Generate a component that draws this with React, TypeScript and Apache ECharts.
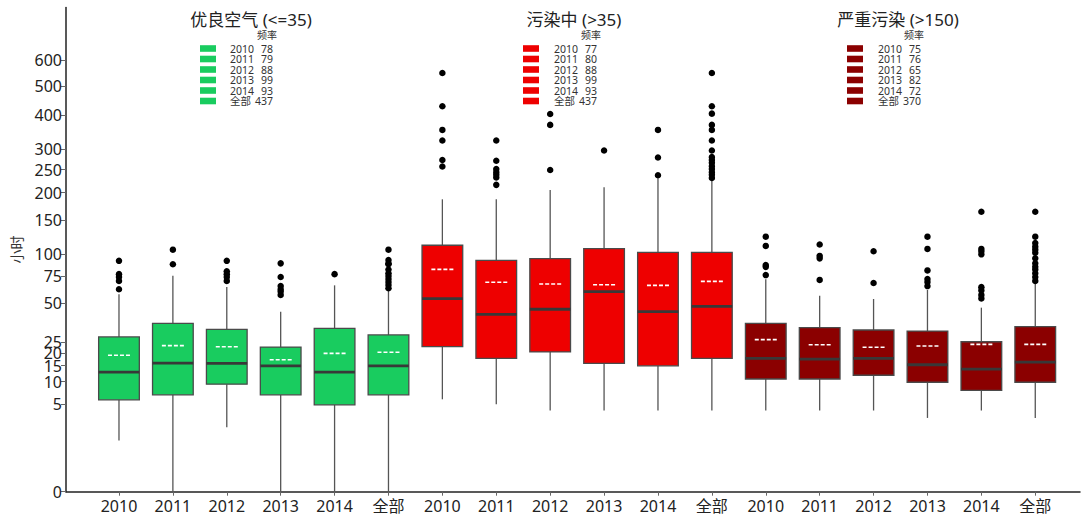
import React, { useEffect, useRef } from "react";
import * as echarts from "echarts";

// ---- data ----
const years = ["2010", "2011", "2012", "2013", "2014", "全部"];
const groupTitles = ["优良空气 (<=35)", "污染中 (>35)", "严重污染 (>150)"];
const groupColors = ["#19CC5F", "#EE0000", "#8B0000"];
const yTicks = [0, 5, 10, 15, 20, 25, 50, 75, 100, 150, 200, 250, 300, 400, 500, 600];

// legend counts (频率)
const goodCounts = [78, 79, 88, 99, 93, 437];
const midCounts = [77, 80, 88, 99, 93, 437];
const badCounts = [75, 76, 65, 82, 72, 370];

// box stats: [lowerWhisker, Q1, median, Q3, upperWhisker, mean]
const goodStats = [
  [1, 5.8, 12.8, 27.7, 57.5, 19.0],
  [0, 6.8, 15.9, 35.7, 75.4, 23.3],
  [2, 9.3, 15.8, 32.0, 64.1, 22.8],
  [0, 6.8, 14.9, 22.6, 43.6, 17.2],
  [0, 4.9, 12.8, 32.6, 65.7, 19.8],
  [0, 6.8, 14.9, 28.8, 60.7, 20.3],
];
const midStats = [
  [5.9, 22.8, 53.8, 111.9, 186.9, 82.2],
  [5.0, 17.7, 41.7, 92.6, 186.9, 68.7],
  [4.0, 20.4, 45.4, 94.6, 205.3, 67.0],
  [4.0, 15.8, 59.8, 107.3, 210.9, 66.3],
  [4.0, 14.9, 43.6, 102.6, 230.1, 65.7],
  [4.0, 17.7, 47.6, 102.6, 226.4, 69.6],
];
const badStats = [
  [4.0, 10.7, 17.7, 35.7, 71.6, 26.3],
  [4.0, 10.7, 17.4, 33.0, 56.3, 23.7],
  [4.0, 11.8, 17.7, 31.6, 53.5, 22.5],
  [3.0, 9.8, 15.3, 31.0, 61.4, 23.1],
  [4.0, 7.8, 13.8, 25.2, 46.6, 23.9],
  [3.0, 9.8, 16.3, 33.6, 67.7, 23.9],
];

// outliers per box
const goodOutliers = [
  [92, 77, 74, 70, 62],
  [106, 88],
  [92, 80, 77, 74, 70],
  [89, 74, 65, 62, 60, 57],
  [77],
  [106, 93, 89, 88, 82, 78, 75, 72, 69, 66, 63],
];
const midOutliers = [
  [549, 428, 354, 324, 273, 257],
  [324, 271, 251, 244, 238, 232, 216],
  [403, 369, 249],
  [297],
  [354, 279, 237],
  [549, 428, 404, 369, 354, 324, 297, 280, 273, 266, 258, 251, 244, 238, 231],
];
const badOutliers = [
  [124, 111, 87, 85, 76],
  [113, 98, 95, 71],
  [104, 68],
  [124, 107, 81, 72, 69, 65],
  [164, 107, 104, 100, 64, 61, 57, 54],
  [164, 124, 115, 110, 106, 102, 95, 89, 85, 82, 78, 74, 70],
];

const cbrt = (v: number) => Math.cbrt(v);
const Y_MAX = 9.468;
const X_MIN = 0.017;
const X_MAX = 18.83;
const FONT = "'Noto Sans', 'Noto Sans CJK SC', sans-serif";

const allStats = [goodStats, midStats, badStats];
const allOutliers = [goodOutliers, midOutliers, badOutliers];
const allCounts = [goodCounts, midCounts, badCounts];
const allCats = groupTitles.flatMap(() => years);

function boxSeries(gi: number) {
  const data = allStats[gi].map((s, i) => [gi * 6 + i + 1, ...s.map(cbrt)]);
  return {
    type: "custom",
    data,
    encode: { x: 0, y: [1, 2, 3, 4, 5, 6] },
    z: 2,
    renderItem: (params: any, api: any) => {
      const x = api.value(0);
      const lo = api.coord([x, api.value(1)]);
      const q1 = api.coord([x, api.value(2)]);
      const med = api.coord([x, api.value(3)]);
      const q3 = api.coord([x, api.value(4)]);
      const hi = api.coord([x, api.value(5)]);
      const mean = api.coord([x, api.value(6)]);
      const w = api.size([0.755, 0])[0];
      const cx = lo[0];
      return {
        type: "group",
        children: [
          { type: "line", shape: { x1: cx, y1: lo[1], x2: cx, y2: q1[1] }, style: { stroke: "#555", lineWidth: 1.3 } },
          { type: "line", shape: { x1: cx, y1: q3[1], x2: cx, y2: hi[1] }, style: { stroke: "#555", lineWidth: 1.3 } },
          {
            type: "rect",
            shape: { x: cx - w / 2, y: q3[1], width: w, height: q1[1] - q3[1] },
            style: { fill: groupColors[gi], stroke: "#4a4a4a", lineWidth: 1.3 },
          },
          { type: "line", shape: { x1: cx - w / 2, y1: med[1], x2: cx + w / 2, y2: med[1] }, style: { stroke: "#383838", lineWidth: 2.8 } },
          {
            type: "line",
            shape: { x1: cx - 11, y1: mean[1], x2: cx + 11, y2: mean[1] },
            style: { stroke: "#ffffff", lineWidth: 1.6, lineDash: [4, 2] },
          },
        ],
      };
    },
  };
}

function outlierSeries() {
  const pts: number[][] = [];
  allOutliers.forEach((g, gi) =>
    g.forEach((arr, i) => arr.forEach((v) => pts.push([gi * 6 + i + 1, cbrt(v)])))
  );
  return {
    type: "scatter",
    data: pts,
    symbol: "circle",
    symbolSize: 6.5,
    itemStyle: { color: "#000", opacity: 1 },
    z: 3,
  };
}

function legendGraphics() {
  const layout = [
    { titleX: 251, swX: 200, textX: 230, countX: 273, hdrX: 267 },
    { titleX: 574, swX: 523, textX: 554, countX: 597, hdrX: 591 },
    { titleX: 898, swX: 847, textX: 878, countX: 921, hdrX: 914 },
  ];
  const els: any[] = [];
  layout.forEach((L, gi) => {
    els.push({
      type: "text",
      x: L.titleX,
      y: 19,
      style: { text: groupTitles[gi], font: `17px ${FONT}`, fill: "#222", align: "center", verticalAlign: "middle" },
    });
    els.push({
      type: "text",
      x: L.hdrX,
      y: 35,
      style: { text: "频率", font: `10px ${FONT}`, fill: "#333", align: "center", verticalAlign: "middle" },
    });
    years.forEach((yr, i) => {
      const cy = 48.5 + i * 10.5;
      els.push({
        type: "rect",
        shape: { x: L.swX, y: cy - 3.3, width: 16, height: 6.6 },
        style: { fill: groupColors[gi] },
      });
      els.push({
        type: "text",
        x: L.textX,
        y: cy,
        style: { text: yr, font: `10.5px ${FONT}`, fill: "#333", align: "left", verticalAlign: "middle" },
      });
      els.push({
        type: "text",
        x: L.countX,
        y: cy,
        style: { text: String(allCounts[gi][i]), font: `10.5px ${FONT}`, fill: "#333", align: "right", verticalAlign: "middle" },
      });
    });
  });
  return els;
}

export default function App() {
  const ref = useRef<HTMLDivElement>(null);
  useEffect(() => {
    if (!ref.current) return;
    const chart = echarts.init(ref.current, null, { renderer: "svg" });
    const xVals = allCats.map((_, i) => i + 1);
    chart.setOption({
      animation: false,
      backgroundColor: "#fff",
      textStyle: { fontFamily: FONT },
      grid: { left: 66, right: 1, top: 7.5, bottom: 27.3, containLabel: false },
      xAxis: {
        type: "value",
        min: X_MIN,
        max: X_MAX,
        splitLine: { show: false },
        axisLine: { show: true, lineStyle: { color: "#222", width: 1.5 } },
        axisTick: { show: true, customValues: xVals, length: 4, lineStyle: { color: "#666", width: 1 } },
        axisLabel: {
          customValues: xVals,
          formatter: (v: number) => allCats[Math.round(v) - 1] ?? "",
          fontSize: 16,
          color: "#222",
          margin: 6,
          fontFamily: FONT,
        },
      },
      yAxis: {
        type: "value",
        min: 0,
        max: Y_MAX,
        name: "小时",
        nameLocation: "middle",
        nameGap: 42,
        nameRotate: 90,
        nameTextStyle: { fontSize: 14, color: "#333", fontFamily: FONT },
        splitLine: { show: false },
        axisLine: { show: true, lineStyle: { color: "#222", width: 1.5 } },
        axisTick: { show: true, customValues: yTicks.map(cbrt), length: 5, lineStyle: { color: "#666", width: 1 } },
        axisLabel: {
          customValues: yTicks.map(cbrt),
          formatter: (v: number) => String(Math.round(v * v * v)),
          fontSize: 16,
          color: "#222",
          margin: 4,
          fontFamily: FONT,
        },
      },
      graphic: legendGraphics(),
      series: [boxSeries(0), boxSeries(1), boxSeries(2), outlierSeries()],
    });
    return () => chart.dispose();
  }, []);
  return <div ref={ref} style={{ width: 1081, height: 519, position: "absolute", left: 0, top: 0 }} />;
}
